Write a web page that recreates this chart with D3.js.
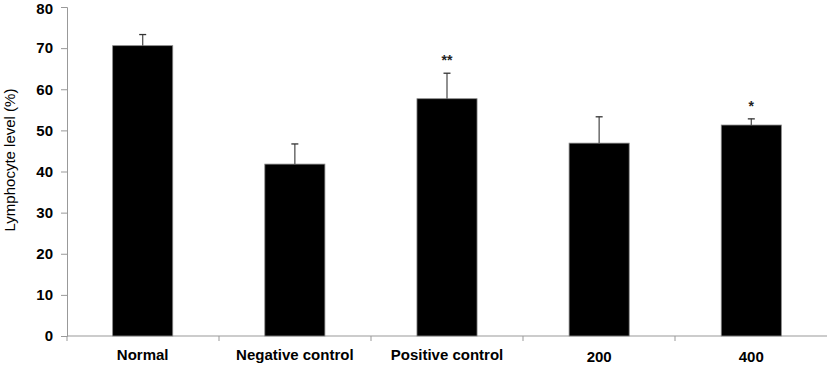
<!DOCTYPE html>
<html><head><meta charset="utf-8">
<script src="https://cdn.jsdelivr.net/npm/d3@7"></script>
<style>body{margin:0;background:#fff}svg{display:block}</style>
</head><body>
<svg id="c" width="827" height="365"></svg>
<script>
const categories = ["Normal","Negative control","Positive control","200","400"];
const values = [70.6, 41.8, 57.7, 46.9, 51.3];
const errors = [2.7, 4.9, 6.2, 6.4, 1.5];
const marks = ["", "", "**", "", "*"];
const yTicks = [0,10,20,30,40,50,60,70,80];

const svg = d3.select("#c");
const x = d3.scaleBand().domain(categories).range([67, 827]).paddingInner(0.605).paddingOuter(0.3);
const y = d3.scaleLinear().domain([0, 80]).range([336, 7]);
const FF = "Liberation Sans, Arial, sans-serif";

// y axis
const ya = svg.append("g").attr("transform","translate(67,0)")
  .call(d3.axisLeft(y).tickValues(yTicks).tickSize(6).tickPadding(8));
ya.select(".domain").attr("stroke","#999");
ya.selectAll(".tick line").attr("stroke","#999");
ya.selectAll("text").attr("font-family",FF)
  .attr("font-weight","bold").attr("font-size","15px").attr("fill","#000");
ya.selectAll(".tick text").filter(d=>d===80).attr("dy","0.45em");

// x axis line and category boundary ticks
const band = d3.scaleBand().domain(categories).range([67, 827]);
svg.append("line").attr("x1",67).attr("x2",827).attr("y1",y(0)).attr("y2",y(0)).attr("stroke","#999");
svg.selectAll(".xt").data(categories).join("line")
  .attr("x1",d=>band(d)).attr("x2",d=>band(d))
  .attr("y1",y(0)).attr("y2",y(0)+5).attr("stroke","#999");

// bars
svg.selectAll(".bar").data(categories).join("rect")
  .attr("x",d=>x(d)).attr("width",x.bandwidth())
  .attr("y",(d,i)=>y(values[i])).attr("height",(d,i)=>y(0)-y(values[i]))
  .attr("fill","#000").attr("stroke","#888").attr("stroke-width",0.8);

// error bars
const cx = d=>x(d)+x.bandwidth()/2;
svg.selectAll(".eb").data(categories).join("line")
  .attr("x1",cx).attr("x2",cx)
  .attr("y1",(d,i)=>y(values[i])).attr("y2",(d,i)=>y(values[i]+errors[i]))
  .attr("stroke","#555").attr("stroke-width",1.3);
svg.selectAll(".ec").data(categories).join("line")
  .attr("x1",d=>cx(d)-3.5).attr("x2",d=>cx(d)+3.5)
  .attr("y1",(d,i)=>y(values[i]+errors[i])).attr("y2",(d,i)=>y(values[i]+errors[i]))
  .attr("stroke","#333").attr("stroke-width",1.3);

// significance marks
svg.selectAll(".sig").data(categories).join("text")
  .attr("x",cx).attr("y",(d,i)=>y(values[i]+errors[i])-8)
  .attr("text-anchor","middle").attr("font-family",FF)
  .attr("font-weight","bold").attr("font-size","14px").attr("fill","#222")
  .text((d,i)=>marks[i]);

// x labels
svg.selectAll(".xl").data(categories).join("text")
  .attr("x",cx).attr("y",(d,i)=>/^\d+$/.test(d)?362:360)
  .attr("text-anchor","middle").attr("font-family",FF)
  .attr("font-weight","bold").attr("font-size","15px").attr("fill","#000")
  .text(d=>d);

// y title
svg.append("text").attr("transform","translate(15,160) rotate(-90)")
  .attr("text-anchor","middle").attr("font-family",FF)
  .attr("font-size","15px").attr("fill","#000").text("Lymphocyte level (%)");
</script>
</body></html>
